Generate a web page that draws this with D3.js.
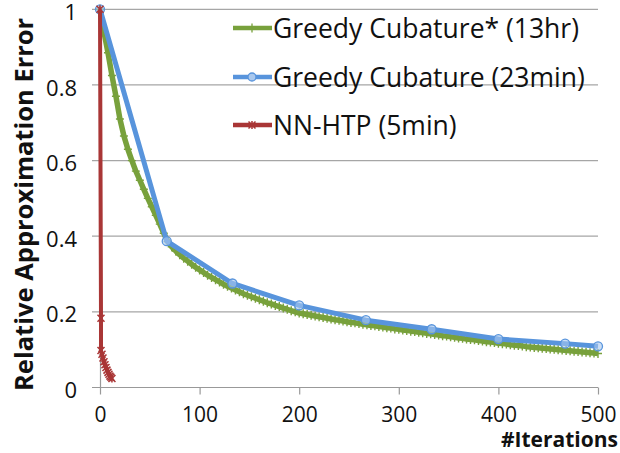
<!DOCTYPE html>
<html>
<head>
<meta charset="utf-8">
<script src="https://cdn.jsdelivr.net/npm/d3@7"></script>
<style>
  body { margin: 0; background: #fff; }
  svg { display: block; font-family: 'Open Sans', sans-serif; }
</style>
</head>
<body>
<script>
const width = 620
const height = 453

// data
const xTicks = [0, 100, 200, 300, 400, 500]
const yTicks = [0, 0.2, 0.4, 0.6, 0.8, 1]
const yTickLabels = ['0', '0.2', '0.4', '0.6', '0.8', '1']

const seriesNames = ['Greedy Cubature* (13hr)', 'Greedy Cubature (23min)', 'NN-HTP (5min)']

const greedyStarIters = d3.range(0, 501, 4)
const greedyStarErr = [
  1.000, 0.940, 0.885, 0.825, 0.770, 0.710, 0.665, 0.630, 0.600, 0.572,
  0.548, 0.524, 0.500, 0.478, 0.455, 0.432, 0.408, 0.386, 0.372, 0.361,
  0.351, 0.342, 0.334, 0.326, 0.318, 0.311, 0.304, 0.297, 0.291, 0.285,
  0.279, 0.273, 0.268, 0.263, 0.258, 0.253, 0.248, 0.244, 0.240, 0.236,
  0.232, 0.228, 0.224, 0.221, 0.217, 0.214, 0.210, 0.207, 0.203, 0.200,
  0.197, 0.195, 0.193, 0.191, 0.189, 0.187, 0.185, 0.183, 0.181, 0.179,
  0.178, 0.176, 0.174, 0.172, 0.171, 0.169, 0.167, 0.166, 0.164, 0.163,
  0.161, 0.160, 0.158, 0.157, 0.155, 0.154, 0.152, 0.151, 0.149, 0.148,
  0.146, 0.145, 0.143, 0.142, 0.140, 0.139, 0.137, 0.136, 0.134, 0.133,
  0.131, 0.130, 0.128, 0.127, 0.126, 0.124, 0.123, 0.121, 0.120, 0.119,
  0.117, 0.116, 0.115, 0.113, 0.112, 0.111, 0.110, 0.108, 0.107, 0.106,
  0.105, 0.104, 0.103, 0.102, 0.101, 0.100, 0.099, 0.098, 0.097, 0.096,
  0.095, 0.094, 0.093, 0.092, 0.091, 0.090
]

const greedyIters = [0, 67, 133, 200, 267, 333, 400, 467, 500]
const greedyErr = [1, 0.387, 0.275, 0.217, 0.178, 0.154, 0.128, 0.116, 0.109]

const nnIters = [0, 1, 1, 2, 3, 4, 5, 6, 7, 8, 9, 10, 11, 12]
const nnErr = [1, 0.183, 0.098, 0.088, 0.078, 0.068, 0.060, 0.053, 0.046, 0.040, 0.035, 0.030, 0.027, 0.024]

const colors = ['#78a13c', '#5894dc', '#a93636']

const svg = d3.select('body').append('svg')
  .attr('width', width)
  .attr('height', height)

const x = d3.scaleLinear().domain([0, 500]).range([100, 598])
const y = d3.scaleLinear().domain([0, 1]).range([387.5, 9.3])

// gridlines
svg.append('g')
  .selectAll('line')
  .data(yTicks.slice(1))
  .join('line')
  .attr('x1', 92).attr('x2', x(500))
  .attr('y1', d => y(d)).attr('y2', d => y(d))
  .attr('stroke', '#a6a6a6')
  .attr('stroke-width', 1.2)

// x axis
const xAxis = svg.append('g')
  .attr('transform', `translate(0,${y(0)})`)
  .call(d3.axisBottom(x).tickValues(xTicks).tickSize(7).tickPadding(13).tickFormat(d3.format('d')))
xAxis.select('.domain').attr('stroke', '#999').attr('stroke-width', 1.2).attr('d', `M92,0H${x(500)}`)
xAxis.selectAll('.tick line').attr('stroke', '#999').attr('stroke-width', 1.2)
xAxis.selectAll('text').attr('font-size', 21).attr('font-family', 'Open Sans').attr('fill', '#111')

// y axis
const yAxis = svg.append('g')
  .attr('transform', `translate(${x(0)},0)`)
  .call(d3.axisLeft(y).tickValues(yTicks).tickSize(0).tickPadding(23)
    .tickFormat((d, i) => yTickLabels[i]))
yAxis.select('.domain').attr('stroke', '#999').attr('stroke-width', 1.2)
yAxis.selectAll('text').attr('font-size', 22).attr('font-family', 'Open Sans').attr('fill', '#111')
  .attr('dy', '0.46em')

svg.append('text')
  .attr('transform', `translate(33,${(y(0) + y(1)) / 2 + 6}) rotate(-90)`)
  .attr('text-anchor', 'middle')
  .attr('font-size', 25.5)
  .attr('font-weight', 'bold')
  .attr('font-family', 'Open Sans')
  .attr('fill', '#111')
  .text('Relative Approximation Error')

svg.append('text')
  .attr('x', 618).attr('y', 447)
  .attr('text-anchor', 'end')
  .attr('font-size', 21)
  .attr('font-weight', 'bold')
  .attr('font-family', 'Open Sans')
  .attr('fill', '#111')
  .text('#Iterations')

const line = d3.line().x(d => x(d[0])).y(d => y(d[1]))

const plusPath = 'M-4,0H4M0,-4.5V4.5'
const crossPath = 'M-3.5,-3.5L3.5,3.5M-3.5,3.5L3.5,-3.5M0,-4V4'

// green: greedy cubature*
const gData = greedyStarIters.map((it, i) => [it, greedyStarErr[i]])
svg.append('path').datum(gData)
  .attr('d', line).attr('fill', 'none')
  .attr('stroke', colors[0]).attr('stroke-width', 5.5).attr('stroke-linejoin', 'round')
svg.append('g').selectAll('path').data(gData).join('path')
  .attr('transform', d => `translate(${x(d[0])},${y(d[1])})`)
  .attr('d', plusPath).attr('stroke', colors[0]).attr('stroke-width', 1.4)

// blue: greedy cubature
const bData = greedyIters.map((it, i) => [it, greedyErr[i]])
svg.append('path').datum(bData)
  .attr('d', line).attr('fill', 'none')
  .attr('stroke', colors[1]).attr('stroke-width', 5).attr('stroke-linejoin', 'round')
svg.append('g').selectAll('circle').data(bData).join('circle')
  .attr('cx', d => x(d[0])).attr('cy', d => y(d[1])).attr('r', 4.5)
  .attr('fill', '#a9c8ee').attr('fill-opacity', 0.6)
  .attr('stroke', colors[1]).attr('stroke-width', 1.3)

// red: NN-HTP
const rData = nnIters.map((it, i) => [it, nnErr[i]])
svg.append('path').datum(rData)
  .attr('d', line).attr('fill', 'none')
  .attr('stroke', colors[2]).attr('stroke-width', 4).attr('stroke-linejoin', 'round')
svg.append('g').selectAll('path').data(rData).join('path')
  .attr('transform', d => `translate(${x(d[0])},${y(d[1])})`)
  .attr('d', crossPath).attr('stroke', colors[2]).attr('stroke-width', 1.5)

// legend
const legendRows = [28, 77, 125]
const legend = svg.append('g')
seriesNames.forEach((name, i) => {
  const g = legend.append('g').attr('transform', `translate(0,${legendRows[i]})`)
  g.append('line').attr('x1', 233).attr('x2', 272)
    .attr('stroke', colors[i]).attr('stroke-width', 4.5)
  if (i === 0) g.append('path').attr('transform', 'translate(252,0)').attr('d', plusPath)
    .attr('stroke', colors[0]).attr('stroke-width', 1.3)
  if (i === 1) g.append('circle').attr('cx', 252).attr('r', 4)
    .attr('fill', '#a9c8ee').attr('stroke', colors[1]).attr('stroke-width', 1.3)
  if (i === 2) g.append('path').attr('transform', 'translate(252,0)').attr('d', crossPath)
    .attr('stroke', colors[2]).attr('stroke-width', 1.5)
  g.append('text').attr('x', 273).attr('y', 9.5)
    .attr('font-size', 26.5).attr('font-family', 'Open Sans').attr('fill', '#111')
    .text(name)
})
</script>
</body>
</html>
